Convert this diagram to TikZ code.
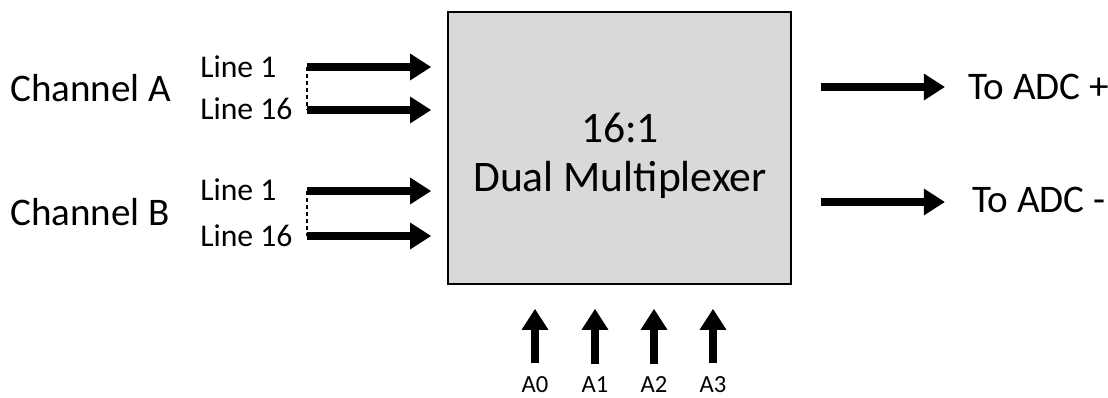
\documentclass[tikz,border=0pt]{standalone}
\usepackage{fontspec}
\setmainfont{Carlito}
\usepackage{tikz}
\usetikzlibrary{arrows.meta}
\definecolor{boxgray}{RGB}{217,217,217}
\newcommand{\chanfont}{\fontsize{27.8}{30}\selectfont}
\newcommand{\linefont}{\fontsize{22.5}{25}\selectfont}
\newcommand{\muxfont}{\fontsize{31}{34}\selectfont}
\newcommand{\selfont}{\fontsize{17.5}{19}\selectfont}

\begin{document}
\begin{tikzpicture}[
      x=0.025cm, y=-0.025cm,
      pointer/.style={line width=5pt, -{Triangle[length=15pt,width=18pt]}, draw=black},
      link/.style={line width=0.9pt, dash pattern=on 3pt off 2pt, draw=black},
      muxbox/.style={rectangle, draw=black, line width=1pt, fill=boxgray, minimum width=8.575cm, minimum height=6.8cm},
      every node/.style={inner sep=0pt, text=black}
      ]
      \useasboundingbox (0,0) rectangle (1108,398);

      % multiplexer
      \node[muxbox] (mux) at (619.5,148) {};
      \node[font=\muxfont] (ratio) at (620,128) {16:1};
      \node[font=\muxfont] (name) at (620,180) {Dual Multiplexer};

      % channel A
      \node[font=\chanfont, anchor=west] (chA) at (10,88) {Channel A};
      \node[font=\linefont, anchor=west] (lA1) at (200,67) {Line 1};
      \node[font=\linefont, anchor=west] (lA16) at (200,109) {Line 16};
      \coordinate (a1) at (307,67);
      \coordinate (a16) at (307,110);
      \path (a1) edge [pointer, shorten >=0.4cm] (a1 -| mux.west);
      \path (a16) edge [pointer, shorten >=0.4cm] (a16 -| mux.west);
      \path (a1) edge [link] (a16);

      % channel B
      \node[font=\chanfont, anchor=west] (chB) at (10,212) {Channel B};
      \node[font=\linefont, anchor=west] (lB1) at (200,190) {Line 1};
      \node[font=\linefont, anchor=west] (lB16) at (200,236) {Line 16};
      \coordinate (b1) at (307,191);
      \coordinate (b16) at (307,236);
      \path (b1) edge [pointer, shorten >=0.4cm] (b1 -| mux.west);
      \path (b16) edge [pointer, shorten >=0.4cm] (b16 -| mux.west);
      \path (b1) edge [link] (b16);

      % outputs
      \node[font=\chanfont, anchor=west] (adcp) at (968,87) {To ADC +};
      \node[font=\chanfont, anchor=west] (adcm) at (972,200) {To ADC -};
      \path (mux.east |- adcp) edge [pointer, shorten <=0.725cm, shorten >=0.575cm] (adcp.west);
      \path (mux.east |- 0,202) edge [pointer, shorten <=0.725cm, shorten >=0.675cm] (adcm.west |- 0,202);

      % select lines
      \node[font=\selfont] (s0) at (535,385) {A0};
      \node[font=\selfont] (s1) at (595,385) {A1};
      \node[font=\selfont] (s2) at (654,385) {A2};
      \node[font=\selfont] (s3) at (713,385) {A3};
      \path (s0.north) edge [pointer, shorten <=0.33cm, shorten >=0.6cm] (s0 |- mux.south);
      \path (s1.north) edge [pointer, shorten <=0.33cm, shorten >=0.6cm] (s1 |- mux.south);
      \path (s2.north) edge [pointer, shorten <=0.33cm, shorten >=0.6cm] (s2 |- mux.south);
      \path (s3.north) edge [pointer, shorten <=0.33cm, shorten >=0.6cm] (s3 |- mux.south);
\end{tikzpicture}
\end{document}
